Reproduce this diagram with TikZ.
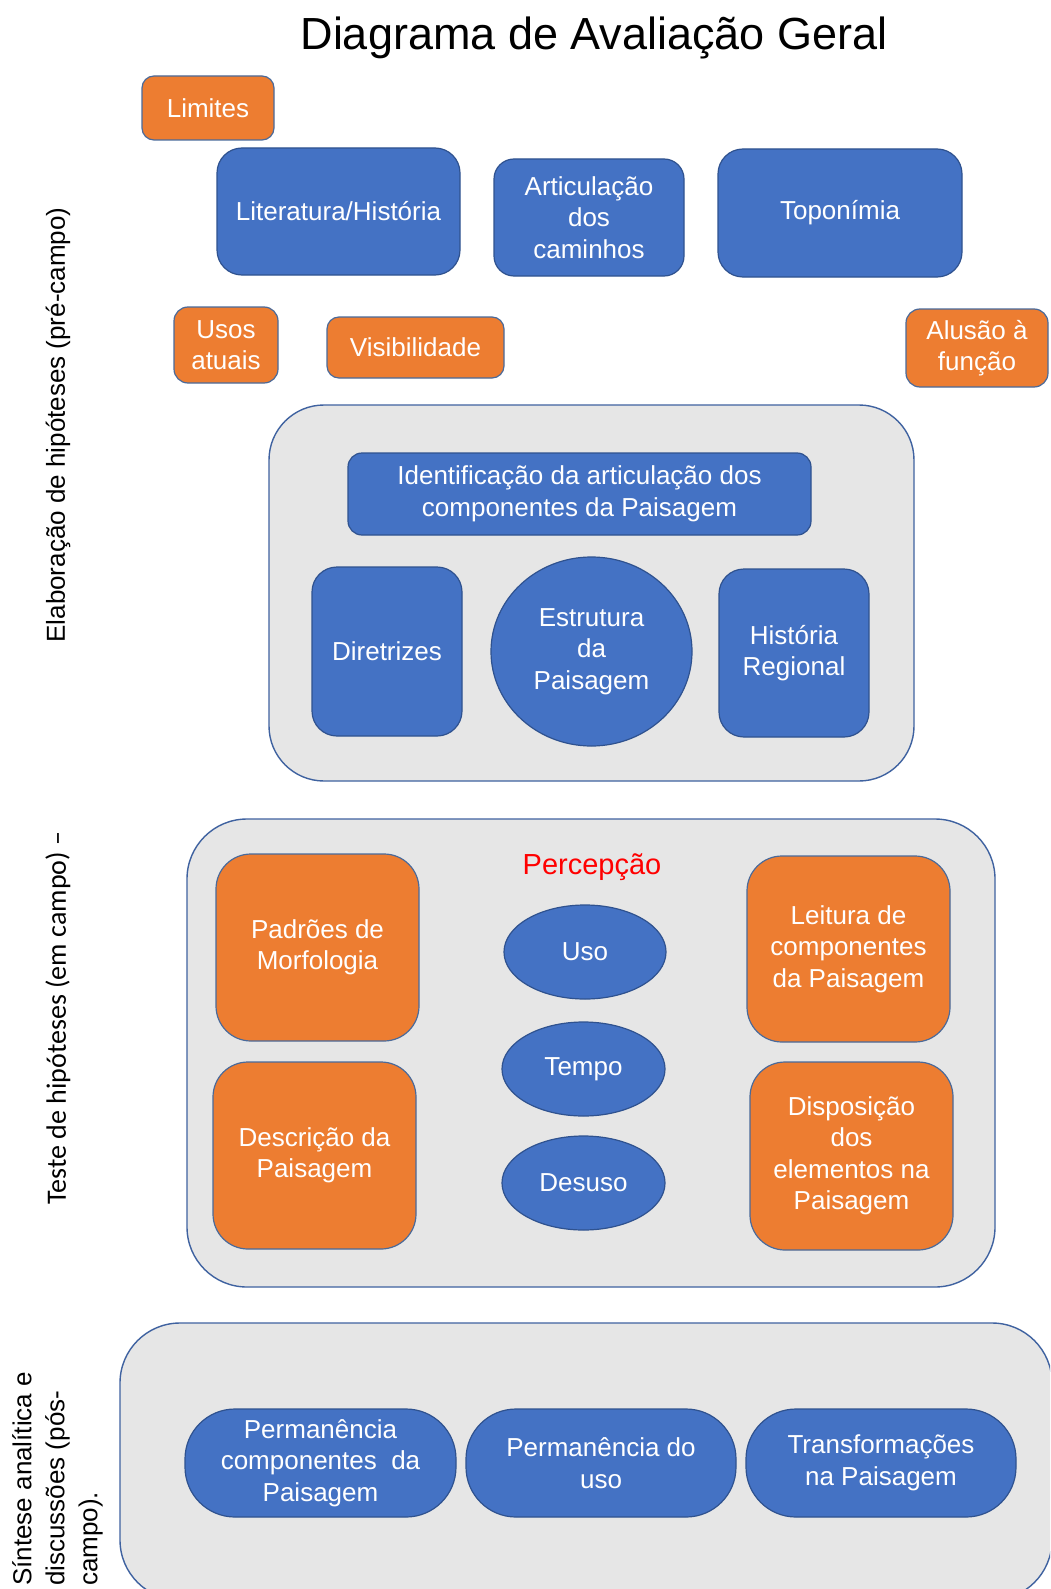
\documentclass[tikz,border=0pt]{standalone}
\usepackage{fontspec}
\setmainfont{Liberation Sans}
\newfontfamily\calib{Carlito}
\usetikzlibrary{shapes.geometric}
\definecolor{bfill}{HTML}{4472C4}
\definecolor{bline}{HTML}{2F528F}
\definecolor{ofill}{HTML}{ED7D31}
\definecolor{oline}{HTML}{4A6A9A}
\definecolor{pfill}{HTML}{E6E6E6}
\definecolor{pline}{HTML}{3F62A0}
\begin{document}
\begin{tikzpicture}[x=1pt,y=-1pt,
 txt/.style={font=\fontsize{26}{31.5}\selectfont, text=white, align=center, inner sep=0pt},
 bbox/.style={txt, rectangle, draw=bline, fill=bfill, line width=1.2pt},
 obox/.style={txt, rectangle, draw=oline, fill=ofill, line width=1.2pt},
 bell/.style={txt, ellipse, draw=bline, fill=bfill, line width=1.2pt},
 panel/.style={rectangle, draw=pline, fill=pfill, line width=1.4pt, inner sep=0pt},
 sz/.style 2 args={minimum width=#1pt, minimum height=#2pt}
]
\useasboundingbox (0,0) rectangle (1050,1589);
\clip (0,0) rectangle (1050,1589);
\fill[white] (0,0) rectangle (1050,1589);

% title
\node[font=\fontsize{45}{54}\selectfont, inner sep=0pt] (title) at (594,38) {Diagrama de Avaliação Geral};

% top region
\node[obox, sz={132}{64}, rounded corners=12pt] (limites) at (208,108) {Limites};
\node[bbox, sz={243}{127}, rounded corners=25pt] (lit) at (338.5,211.5) {Literatura/História};
\node[bbox, sz={190}{117}, rounded corners=20pt] (art) at (589,217.5) {Articulação\\dos\\caminhos};
\node[bbox, sz={244}{128}, rounded corners=25pt] (topo) at (840,213) {Toponímia};
\node[obox, sz={104}{76}, rounded corners=14pt] (usos) at (226,345) {Usos\\atuais};
\node[obox, sz={177}{61}, rounded corners=12pt] (vis) at (415.5,347.5) {Visibilidade};
\node[obox, sz={142}{78}, rounded corners=14pt] (alusao) at (977,348) {Alusão à\\função};

% panel 1
\node[panel, sz={645}{376}, rounded corners=55pt] (p1) at (591.5,593) {};
\node[bbox, sz={463}{82}, rounded corners=14pt] (ident) at (579.5,494) {Identificação da articulação dos\\componentes da Paisagem};
\node[bbox, sz={150}{169}, rounded corners=25pt] (dir) at (387,651.5) {Diretrizes};
\node[bell, sz={201}{189}] (estr) at (591.5,651.5) {Estrutura\\da\\Paisagem};
\node[bbox, sz={150}{168}, rounded corners=25pt] (hist) at (794,653) {História\\Regional};

% panel 2
\node[panel, sz={808}{468}, rounded corners=60pt] (p2) at (591,1053) {};
\node[font=\fontsize{29}{34}\selectfont, text=red, inner sep=0pt] (perc) at (592,867) {Percepção};
\node[obox, sz={203}{187}, rounded corners=35pt] (padroes) at (317.5,947.5) {Padrões de\\Morfologia};
\node[obox, sz={203}{186}, rounded corners=35pt] (leitura) at (848.5,949) {Leitura de\\componentes\\da Paisagem};
\node[obox, sz={203}{187}, rounded corners=35pt] (descr) at (314.5,1155.5) {Descrição da\\Paisagem};
\node[obox, sz={203}{188}, rounded corners=35pt] (disp) at (851.5,1156) {Disposição\\dos\\elementos na\\Paisagem};
\node[bell, sz={162}{94}] (uso) at (585,952) {Uso};
\node[bell, sz={163}{94}] (tempo) at (583.5,1069) {Tempo};
\node[bell, sz={163}{94}] (desuso) at (583.5,1183) {Desuso};

% panel 3
\node[panel, sz={932}{277}, rounded corners=60pt] (p3) at (586,1461.5) {};
\node[bbox, sz={271}{108}, rounded corners=50pt] (permc) at (320.5,1463) {Permanência\\componentes\ \ da\\Paisagem};
\node[bbox, sz={270}{108}, rounded corners=50pt] (permu) at (601,1463) {Permanência do\\uso};
\node[bbox, sz={270}{108}, rounded corners=50pt] (transf) at (881,1463) {Transformações\\na Paisagem};

% side labels
\node[rotate=90, font=\fontsize{26}{31}\selectfont, inner sep=0pt] (lab1) at (58,425) {Elaboração de hipóteses (pré-campo)};
\node[rotate=90, font=\calib\fontsize{28}{34}\selectfont, inner sep=0pt] (lab2) at (58,1018) {Teste de hipóteses (em campo) –};
\node[rotate=90, anchor=north west, align=left, inner sep=0pt, font=\fontsize{26}{33}\selectfont] (lab3) at (12,1586) {Síntese analítica e\\discussões (pós-\\campo).};
\end{tikzpicture}
\end{document}
